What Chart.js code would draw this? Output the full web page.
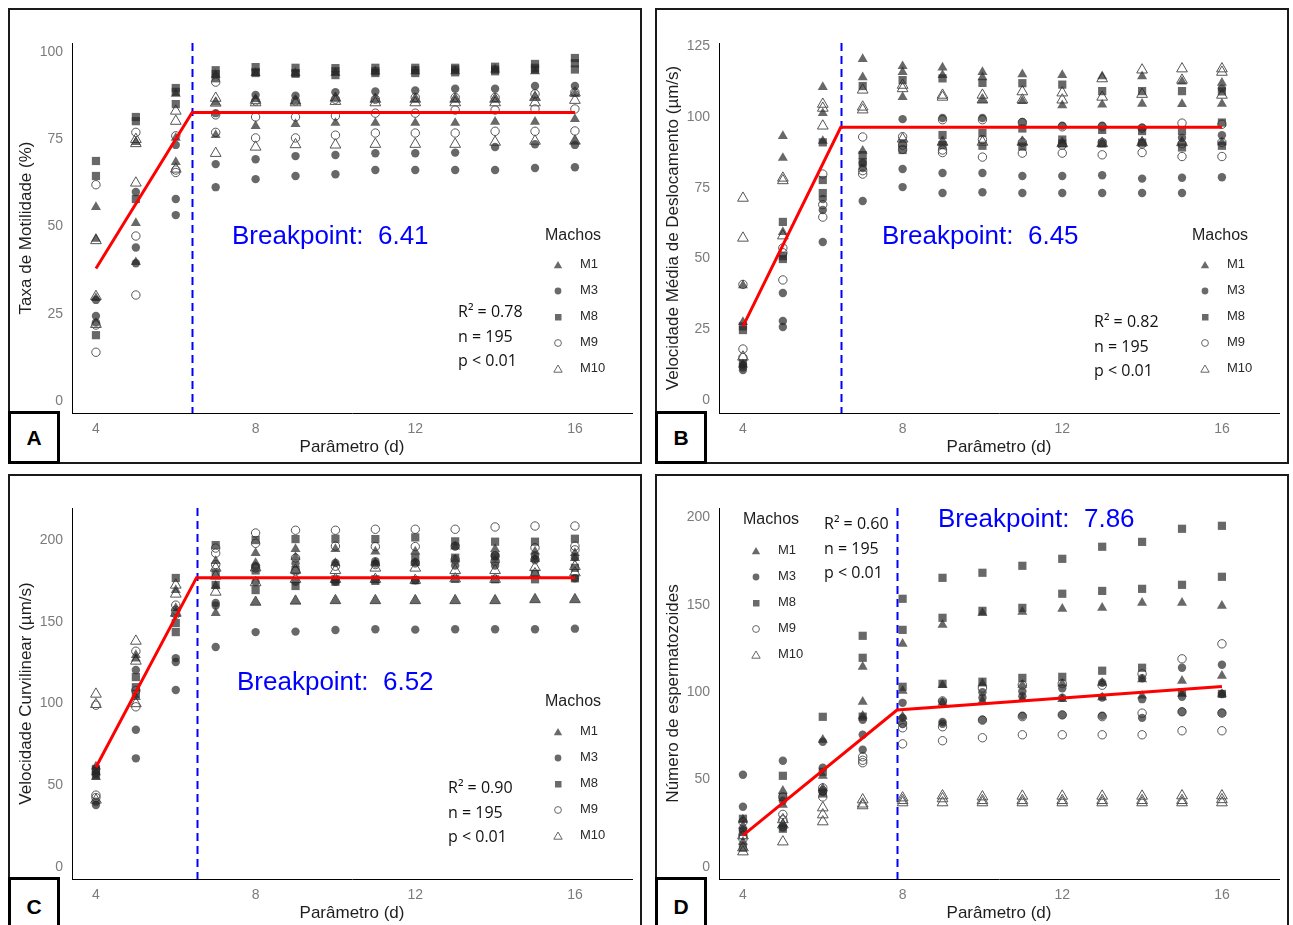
<!DOCTYPE html>
<html>
<head>
<meta charset="utf-8">
<script src="https://cdn.jsdelivr.net/npm/chart.js@4.4.0/dist/chart.umd.min.js"></script>
<style>
  html, body { margin: 0; padding: 0; background: #fff; }
  body { width: 1293px; height: 925px; position: relative; overflow: hidden; font-family: Arial, "Liberation Sans", sans-serif; }
  .panel { position: absolute; box-sizing: border-box; border: 2px solid #1a1a1a; background: #fff; }
  .plot { position: absolute; }
  .tag { position: absolute; box-sizing: border-box; border: 3px solid #000; background: #fff;
         display: flex; align-items: center; justify-content: center; font: bold 21px Arial, sans-serif; color: #000; }
  .txt { position: absolute; line-height: 1; white-space: nowrap; transform: translateY(-50%); }
  .bp { font-size: 26px; color: #0000ff; }
  .stat { font-family: "Open Sans", sans-serif; font-size: 16px; color: #111; }
  .leg-title { font-size: 16px; color: #222; }
  .leg-item { font-size: 13px; color: #2a2a2a; }
  .mk { position: absolute; transform: translate(-50%, -50%); }
</style>
</head>
<body>
<script>
// days of the experiment (x axis)
const days = [4, 5, 6, 7, 8, 9, 10, 11, 12, 13, 14, 15, 16];
const xTicks = [4, 8, 12, 16];
const males = ['M1', 'M3', 'M8', 'M9', 'M10'];
const breakpoints = [6.41, 6.45, 6.52, 7.86];
const r2 = ['0.78', '0.82', '0.90', '0.60'];
const nObs = 195;

// A - Taxa de Motilidade (%), three replicates per day
const aM1 = [[55.6,46.5,29.5],[74.2,51,39.8],[75.4,68.5,88],[93.5,85.5,76.2],[94,86.5,78.8],[94,86,79.4],[94,86.8,79.7],[94.5,86.5,79.7],[94.5,86.5,79.7],[94.5,86.5,79.7],[95,86.5,80],[94.5,87.1,80],[88,80.8,74.5]];
const aM3 = [[24.4,29,22.5],[59.9,44,39.5],[73.4,57.9,53.3],[82.5,67.9,61.3],[87.7,69.3,63.6],[87.5,70.2,64.5],[88.5,70.5,65],[88.7,71,66.2],[89,71,66.2],[89.5,71.2,66.2],[89.5,72.8,66.2],[90.3,73.6,66.8],[90.3,73.4,67]];
const aM8 = [[68.8,64.5,18.9],[81.4,80.2,57.9],[89.7,88.6,85.1],[94.8,93.7,92.5],[95.7,94.3,94],[95.5,94,93.8],[95.4,94.5,93.4],[95.5,94.5,94],[95.5,94.8,94],[95.5,95,94.2],[95.8,95,94.5],[96.6,95.5,95],[98.3,96.8,95]];
const aM9 = [[62,21.8,14],[77,47.3,30.4],[76,66.2,65.5],[91.4,82,77],[81.4,75.4,86],[81.4,75.4,86],[81.7,76.2,86.5],[82.5,76.8,86.5],[82.5,76.8,87],[83.4,76.8,87],[83.4,77.3,87],[83.7,77.3,88],[83.7,77.4,88.5]];
const aM10 = [[46,30,22],[75,73.8,62.5],[83.1,80.2,66.5],[86.8,85.4,71],[86.2,85.5,72.8],[86,85.5,73.5],[86.8,85.9,73.4],[86.5,85.5,73.6],[86.5,85.5,73.6],[86.5,85.5,73.6],[86.5,85.5,74.2],[87,85.5,74.5],[88.3,86.2,74.5]];
const aFitX = [4, 6.41, 16];
const aFitY = [38, 82.7, 82.7];

// B - Velocidade Média de Deslocamento (µm/s)
const bM1 = [[40.5,27.5,12.5],[93.2,85.5,59.3],[110.5,101.3,91.5],[120.4,114,88],[117.9,115.8,107],[117.4,114.8,91],[115.8,105.9,114],[115,105.6,91],[114.8,104.1,90.6],[114.3,104.3,90.6],[114.3,104.6,91],[112.5,104.5,91],[112,104.6,91]];
const bM3 = [[12.4,10.6,11.5],[37.8,27.9,25.8],[71,67.1,55.8],[83.7,81.9,70.3],[99.2,81.6,75.2],[99.6,80.2,73.1],[99.6,80.2,73.4],[98.2,79.1,73.1],[96.9,79.1,73.1],[96.9,79.4,73.1],[96.2,78.2,73.1],[92.6,78.5,73.1],[110,93.5,78.7]];
const bM8 = [[24.7,26,13],[62.9,50.8,49.8],[91,77.7,73.1],[110.9,86.5,84],[113,90.7,88.3],[113.6,93.6,90],[112,94.3,89.8],[111.9,95.9,89.5],[111.4,90.6,92],[109.1,95.4,90.6],[109.1,95,90.9],[109.1,95,89.2],[109,98,89.8]];
const bM9 = [[40.8,18,15],[53.7,42.4,52],[79.8,64.6,69],[92.9,79.8,81],[90,88.5,93],[88.3,87.4,99],[85.8,99,92],[87.2,98,91],[87.2,96.5,90],[86.6,96.5,91],[87.4,96,90.5],[86,97.8,90.5],[86,97.4,91]];
const bM10 = [[71.3,57.2,15.2],[78.4,77.5,58],[104.5,103.1,96.8],[109.5,103.5,102.5],[111.2,110,92.2],[107.7,107,91.1],[107.7,91.1,106],[108.9,91.1,106],[108.5,90.6,106],[113.5,90.6,107],[116.6,90.9,108],[117,90.9,113],[117,115.8,107.7]];
const bFitX = [4, 6.45, 16];
const bFitY = [26, 96.3, 96.3];

// C - Velocidade Curvilinear (µm/s)
const cM1 = [[61.5,58,55],[129.7,127.5,104],[169.4,158.4,155],[187.2,172,155.3],[192,186,162],[194.5,189.6,162.7],[194.5,186,163],[193,186,163],[193,186,163],[196,188,163],[194.5,187.6,163],[193,188.3,163.6],[192,189,163.6]];
const cM3 = [[57,40,38],[120.5,84,66.5],[127.8,125.4,108.3],[161.5,160,134.6],[184,174.3,143.7],[185.6,174.5,144],[186,174.5,145],[187,185.6,145.4],[186.3,175.4,145.2],[184.4,196.3,145.4],[190.4,184.4,145.4],[190.4,188.3,145.4],[189.4,176.6,145.8]];
const cM8 = [[59,56,60],[116.2,110,106],[176.8,149.2,143.7],[196.9,172.5,180],[200,181.4,169.4],[200.6,181.6,171.9],[200.8,176,174.5],[200.6,176,175],[201.6,189.2,175.4],[199.2,189.2,176.3],[199,190,176],[199,179.4,176],[200.8,183,176.6]];
const cM9 = [[99,44,42.5],[132,108,98],[160.2,157,154.6],[195.1,192,185],[204.3,198,183],[206,189,181],[206,196.3,184],[206.6,196,185],[206.6,196,186],[206.6,196.3,188],[208,190.4,187],[208.6,195.3,188],[208.6,196.3,194]];
const cM10 = [[105.8,99.5,41],[138.2,126,100],[172.5,167,155.3],[182.9,168.2,178],[183,174,162],[181.6,176,162.7],[181.4,176,163],[182.9,176,163],[182.9,175.4,163],[181.4,176.3,163],[181.4,176,163],[183.2,179.4,163.6],[183.9,180,163.6]];
const cFitX = [4, 6.52, 16];
const cFitY = [61, 177, 177];

// D - Número de espermatozoides
const dM1 = [[27,23.5,14.3],[43.5,35.5,24.5],[72.7,52.1,45],[114.5,94.5,86.5],[127.7,100.8,86],[138.6,104,94],[145.3,104.9,95],[146,104.2,96],[147.8,104.9,96],[148.3,105.4,97],[151.2,107.4,98],[151.2,106.5,99],[149.5,109.4,99]];
const dM3 = [[52.7,34.4,21],[60.7,37.8,22.5],[71.6,56.7,43],[84.2,75.6,67],[93.9,85.3,82],[94.5,81.9,83],[96.8,84.2,100],[97.7,86.5,100.5],[96.8,87,102.3],[105.4,86.5,97],[108,85.3,96],[114,97.4,88.8],[115.7,99,88.2]];
const dM8 = [[27.5,20,11],[52.1,40,21.8],[85.9,54.4,42],[132.3,119.7,86],[153.5,135.7,103.1],[165.5,142.6,104.8],[168.4,146.6,106],[172.4,148.3,108.2],[176.4,156.4,108.8],[183.3,158,112.3],[186.1,159.2,114],[193.6,161.5,100],[195.3,166.1,99]];
const dM9 = [[25.8,18,16],[26.9,30,40],[45.2,40,43.5],[63,59.6,61],[79.6,70.4,82],[80.2,72.2,95],[102.3,73.9,84],[104.2,75.6,86],[104.9,75.6,87],[104,75.6,86],[110.5,75.6,88],[119.1,77.9,88.8],[127.7,77.9,88]];
const dM10 = [[17.8,10.9,8.6],[24,14.3,27],[33.8,29.8,25.8],[38.4,35,36],[39.5,36.7,38],[40.7,36.7,39],[40.1,36.7,38],[40.5,36.7,38],[40.5,36.7,38],[40.5,36.7,38],[40.5,36.7,38],[40.7,36.7,38],[40.7,36.7,38.5]];
const dFitX = [4, 7.86, 16];
const dFitY = [18, 89.8, 103.2];

const aYTicks = [0, 25, 50, 75, 100];
const bYTicks = [0, 25, 50, 75, 100, 125];
const cYTicks = [0, 50, 100, 150, 200];
const dYTicks = [0, 50, 100, 150, 200];

// marker look per male
const STYLE = {
  M1:  { shape: 'triangle', r: 5.8, fill: 'rgba(40,40,40,0.7)', line: 'rgba(0,0,0,0)', bw: 0 },
  M3:  { shape: 'circle',   r: 4.2, fill: 'rgba(40,40,40,0.7)', line: 'rgba(0,0,0,0)', bw: 0 },
  M8:  { shape: 'rect',     r: 5.8, fill: 'rgba(40,40,40,0.7)', line: 'rgba(0,0,0,0)', bw: 0 },
  M9:  { shape: 'circle',   r: 4.2, fill: 'rgba(0,0,0,0)', line: '#555', bw: 1 },
  M10: { shape: 'triangle', r: 6.2, fill: 'rgba(0,0,0,0)', line: '#555', bw: 1 }
};

const PANELS = [
  { tag: 'A', box: [8, 8, 634, 456], plot: [10, 10, 630, 452], padTop: 33, xH: 49, xPad: 4,
    y: [-3.4, 102.6], yTicks: aYTicks, yTitle: 'Taxa de Motilidade (%)',
    series: [aM1, aM3, aM8, aM9, aM10], fit: [aFitX, aFitY], bp: 0,
    bpAt: [232, 235], statAt: [458, 311], legAt: [545, 235, 263] },
  { tag: 'B', box: [655, 8, 634, 456], plot: [657, 10, 630, 452], padTop: 33, xH: 49, xPad: 4,
    y: [-4.6, 126.1], yTicks: bYTicks, yTitle: 'Velocidade Média de Deslocamento (µm/s)',
    series: [bM1, bM3, bM8, bM9, bM10], fit: [bFitX, bFitY], bp: 1,
    bpAt: [882, 235], statAt: [1094, 321], legAt: [1192, 235, 263] },
  { tag: 'C', box: [8, 474, 634, 470], plot: [10, 476, 630, 449], padTop: 32, xH: 46, xPad: 1,
    y: [-7.3, 219.6], yTicks: cYTicks, yTitle: 'Velocidade Curvilinear (µm/s)',
    series: [cM1, cM3, cM8, cM9, cM10], fit: [cFitX, cFitY], bp: 2,
    bpAt: [237, 681], statAt: [448, 787], legAt: [545, 701, 730] },
  { tag: 'D', box: [655, 474, 634, 470], plot: [657, 476, 630, 449], padTop: 32, xH: 46, xPad: 1,
    y: [-7.0, 205.5], yTicks: dYTicks, yTitle: 'Número de espermatozoides',
    series: [dM1, dM3, dM8, dM9, dM10], fit: [dFitX, dFitY], bp: 3,
    bpAt: [938, 518], statAt: [824, 523], legAt: [743, 519, 549] }
];

Chart.defaults.font.family = 'Arial, "Liberation Sans", sans-serif';

function el(tag, cls, css, parent) {
  const e = document.createElement(tag);
  if (cls) e.className = cls;
  Object.assign(e.style, css || {});
  (parent || document.body).appendChild(e);
  return e;
}

function text(cls, str, x, y) {
  const t = el('div', 'txt ' + cls, { left: x + 'px', top: y + 'px' });
  t.textContent = str;
  return t;
}

function pts(groups) {
  const out = [];
  groups.forEach((reps, i) => reps.forEach(v => out.push({ x: days[i], y: v })));
  return out;
}

function markerSvg(name) {
  const s = STYLE[name];
  const ns = 'http://www.w3.org/2000/svg';
  const svg = document.createElementNS(ns, 'svg');
  svg.setAttribute('width', 12); svg.setAttribute('height', 12);
  let shape;
  if (s.shape === 'triangle') {
    shape = document.createElementNS(ns, 'polygon');
    shape.setAttribute('points', '6,2 10.2,9.2 1.8,9.2');
  } else if (s.shape === 'rect') {
    shape = document.createElementNS(ns, 'rect');
    shape.setAttribute('x', 3); shape.setAttribute('y', 3);
    shape.setAttribute('width', 6.5); shape.setAttribute('height', 6.5);
  } else {
    shape = document.createElementNS(ns, 'circle');
    shape.setAttribute('cx', 6); shape.setAttribute('cy', 6); shape.setAttribute('r', 3.4);
  }
  if (s.bw) { shape.setAttribute('fill', 'none'); shape.setAttribute('stroke', '#666'); shape.setAttribute('stroke-width', 1); }
  else shape.setAttribute('fill', '#6a6a6a');
  svg.appendChild(shape);
  return svg;
}

const bpLine = {
  id: 'bpLine',
  beforeDatasetsDraw(chart, args, opts) {
    const { ctx, chartArea, scales: { x } } = chart;
    const px = Math.round(x.getPixelForValue(opts.value)) + 0.5;
    ctx.save();
    ctx.strokeStyle = '#0000ff';
    ctx.lineWidth = 2;
    ctx.setLineDash([8, 5]);
    ctx.beginPath();
    ctx.moveTo(px, chartArea.top);
    ctx.lineTo(px, chartArea.bottom);
    ctx.stroke();
    ctx.restore();
  }
};

PANELS.forEach(p => {
  el('div', 'panel', { left: p.box[0] + 'px', top: p.box[1] + 'px', width: p.box[2] + 'px', height: p.box[3] + 'px' });

  const wrap = el('div', 'plot', { left: p.plot[0] + 'px', top: p.plot[1] + 'px', width: p.plot[2] + 'px', height: p.plot[3] + 'px' });
  const cv = el('canvas', '', { width: p.plot[2] + 'px', height: p.plot[3] + 'px' }, wrap);
  cv.width = p.plot[2]; cv.height = p.plot[3];

  const datasets = [{
    type: 'line',
    data: p.fit[0].map((x, i) => ({ x, y: p.fit[1][i] })),
    borderColor: '#ff0000', borderWidth: 3, pointRadius: 0, fill: false, tension: 0, order: -1
  }];
  males.forEach((m, k) => {
    const s = STYLE[m];
    datasets.push({
      label: m, data: pts(p.series[k]),
      pointStyle: s.shape, pointRadius: s.r, pointHoverRadius: s.r,
      backgroundColor: s.fill, borderColor: s.line, borderWidth: s.bw
    });
  });

  new Chart(cv, {
    type: 'scatter',
    data: { datasets },
    plugins: [bpLine],
    options: {
      responsive: false, animation: false, devicePixelRatio: 1,
      layout: { padding: { top: p.padTop, right: 8, left: 0, bottom: 0 } },
      plugins: { legend: { display: false }, tooltip: { enabled: false }, bpLine: { value: breakpoints[p.bp] } },
      scales: {
        x: {
          type: 'linear', min: 3.4, max: 17.43,
          afterBuildTicks: s => { s.ticks = xTicks.map(v => ({ value: v })); },
          afterFit: s => { s.height = p.xH; },
          grid: { display: false, drawTicks: false },
          border: { display: true, color: '#000', width: 1 },
          ticks: { color: '#7b7b7b', font: { size: 14 }, padding: 8, maxRotation: 0 },
          title: { display: true, text: 'Parâmetro (d)', color: '#1e1e1e', font: { size: 17 }, padding: { top: 0, bottom: p.xPad } }
        },
        y: {
          type: 'linear', min: p.y[0], max: p.y[1],
          afterBuildTicks: s => { s.ticks = p.yTicks.map(v => ({ value: v })); },
          afterFit: s => { s.width = 62; },
          grid: { display: false, drawTicks: false },
          border: { display: true, color: '#000', width: 1 },
          ticks: { color: '#7b7b7b', font: { size: 14 }, padding: 9 },
          title: { display: true, text: p.yTitle, color: '#1e1e1e', font: { size: 17 }, padding: { top: 6, bottom: 0 } }
        }
      }
    }
  });

  // breakpoint label
  text('bp', 'Breakpoint:\u00a0\u00a0' + breakpoints[p.bp], p.bpAt[0], p.bpAt[1]);

  // fit statistics
  ['R² = ' + r2[p.bp], 'n = ' + nObs, 'p < 0.01'].forEach((s, i) => text('stat', s, p.statAt[0], p.statAt[1] + i * 24.5));

  // legend
  const [lx, ly, fy] = p.legAt;
  text('leg-title', 'Machos', lx, ly);
  males.forEach((m, i) => {
    const yy = fy + i * 26;
    const mk = el('div', 'mk', { left: (lx + 13) + 'px', top: yy + 'px', width: '12px', height: '12px' });
    mk.appendChild(markerSvg(m));
    text('leg-item', m, lx + 35, yy);
  });

  const tag = el('div', 'tag', { left: p.box[0] + 'px', top: (p.box[1] + 403) + 'px', width: '52px', height: (p.tag === 'C' || p.tag === 'D' ? 60 : 53) + 'px' });
  tag.textContent = p.tag;
});
</script>
</body>
</html>
